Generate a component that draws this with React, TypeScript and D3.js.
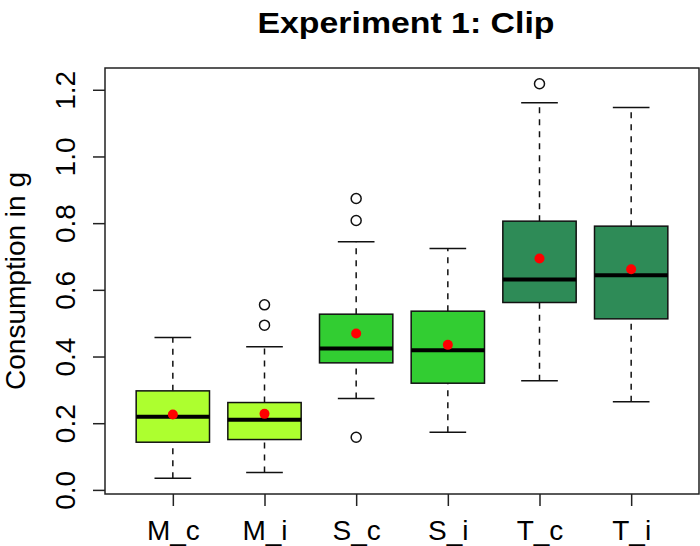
import * as d3 from "d3";
import { useEffect, useRef } from "react";

const categories = ["M_c", "M_i", "S_c", "S_i", "T_c", "T_i"];
const whiskerLow = [0.035, 0.052, 0.274, 0.173, 0.327, 0.264];
const q1 = [0.143, 0.151, 0.381, 0.32, 0.562, 0.513];
const medians = [0.219, 0.21, 0.424, 0.419, 0.631, 0.644];
const q3 = [0.297, 0.262, 0.527, 0.536, 0.806, 0.791];
const whiskerHigh = [0.457, 0.429, 0.744, 0.724, 1.161, 1.147];
const means = [0.226, 0.228, 0.469, 0.435, 0.694, 0.662];
const outliers = [[], [0.494, 0.555], [0.158, 0.808, 0.874], [], [1.218], []];
const yTicks = [0, 0.2, 0.4, 0.6, 0.8, 1.0, 1.2];

const boxColors = ["#ADFF2F", "#ADFF2F", "#32CD32", "#32CD32", "#2E8B57", "#2E8B57"];
const font = "'Liberation Sans', Arial, Helvetica, sans-serif";

const BoxPlot = () => {
  const svgRef = useRef<SVGSVGElement>(null);

  useEffect(() => {
    const svg = d3.select(svgRef.current);
    svg.selectAll("*").remove();

    const left = 105;
    const right = 699;
    const top = 68;
    const bottom = 494;

    // R style: 4% padding on each axis
    const n = categories.length;
    const xPad = n * 0.04;
    const x = d3
      .scaleLinear()
      .domain([0.5 - xPad, n + 0.5 + xPad])
      .range([left, right]);

    const allVals = [...whiskerLow, ...whiskerHigh, ...outliers.flat()];
    const lo = d3.min(allVals) as number;
    const hi = d3.max(allVals) as number;
    const yPad = (hi - lo) * 0.04;
    const y = d3.scaleLinear().domain([lo - yPad, hi + yPad]).range([bottom, top]);

    const boxW = x(1.4) - x(1);
    const capW = x(1.2) - x(1);

    const g = svg.append("g");

    categories.forEach((c, i) => {
      const cx = x(i + 1);
      // whiskers
      [
        [q3[i], whiskerHigh[i]],
        [whiskerLow[i], q1[i]],
      ].forEach(([a, b]) => {
        g.append("line")
          .attr("x1", cx)
          .attr("x2", cx)
          .attr("y1", y(a))
          .attr("y2", y(b))
          .attr("stroke", "#111")
          .attr("stroke-width", 1.5)
          .attr("stroke-dasharray", "6,6");
      });
      [whiskerLow[i], whiskerHigh[i]].forEach((v) => {
        g.append("line")
          .attr("x1", cx - capW)
          .attr("x2", cx + capW)
          .attr("y1", y(v))
          .attr("y2", y(v))
          .attr("stroke", "#111")
          .attr("stroke-width", 1.5);
      });
      // box
      g.append("rect")
        .attr("x", cx - boxW)
        .attr("y", y(q3[i]))
        .attr("width", boxW * 2)
        .attr("height", y(q1[i]) - y(q3[i]))
        .attr("fill", boxColors[i])
        .attr("stroke", "#111")
        .attr("stroke-width", 1.5);
      // median
      g.append("line")
        .attr("x1", cx - boxW)
        .attr("x2", cx + boxW)
        .attr("y1", y(medians[i]))
        .attr("y2", y(medians[i]))
        .attr("stroke", "#000")
        .attr("stroke-width", 4);
      // outliers
      outliers[i].forEach((v) => {
        g.append("circle")
          .attr("cx", cx)
          .attr("cy", y(v))
          .attr("r", 5)
          .attr("fill", "none")
          .attr("stroke", "#111")
          .attr("stroke-width", 1.5);
      });
      // mean
      g.append("circle")
        .attr("cx", cx)
        .attr("cy", y(means[i]))
        .attr("r", 5)
        .attr("fill", "#FF0000");
    });

    // frame
    svg
      .append("rect")
      .attr("x", left)
      .attr("y", top)
      .attr("width", right - left)
      .attr("height", bottom - top)
      .attr("fill", "none")
      .attr("stroke", "#222")
      .attr("stroke-width", 1.5);

    // y axis
    const yAxis = svg
      .append("g")
      .attr("transform", `translate(${left},0)`)
      .call(d3.axisLeft(y).tickValues(yTicks).tickSize(12).tickFormat(d3.format(".1f")));
    yAxis.select(".domain").remove();
    yAxis.selectAll(".tick line").attr("stroke", "#222").attr("stroke-width", 1.5);
    yAxis
      .selectAll(".tick text")
      .attr("x", null)
      .attr("dy", null)
      .attr("transform", "translate(-30,0) rotate(-90)")
      .attr("text-anchor", "middle")
      .attr("fill", "#000")
      .style("font-family", font)
      .style("font-size", "28px");

    // x axis
    const xAxis = svg
      .append("g")
      .attr("transform", `translate(0,${bottom})`)
      .call(
        d3
          .axisBottom(x)
          .tickValues(d3.range(1, n + 1))
          .tickSize(12)
          .tickFormat((d) => categories[(d as number) - 1])
      );
    xAxis.select(".domain").remove();
    xAxis.selectAll(".tick line").attr("stroke", "#222").attr("stroke-width", 1.5);
    xAxis
      .selectAll(".tick text")
      .attr("y", 46)
      .attr("dy", null)
      .attr("fill", "#000")
      .style("font-family", font)
      .style("font-size", "28px");

    // title
    svg
      .append("text")
      .attr("x", 406)
      .attr("y", 33)
      .attr("text-anchor", "middle")
      .attr("textLength", 297)
      .attr("lengthAdjust", "spacingAndGlyphs")
      .style("font-family", font)
      .style("font-size", "30px")
      .style("font-weight", "bold")
      .text("Experiment 1: Clip");

    // y label
    svg
      .append("text")
      .attr("transform", `translate(25,${(top + bottom) / 2}) rotate(-90)`)
      .attr("text-anchor", "middle")
      .style("font-family", font)
      .style("font-size", "28px")
      .text("Consumption in g");
  }, []);

  return (
    <svg
      ref={svgRef}
      width={700}
      height={546}
      style={{ position: "absolute", left: 0, top: 0, background: "#fff" }}
    ></svg>
  );
};

export default function App() {
  return <BoxPlot />;
}
